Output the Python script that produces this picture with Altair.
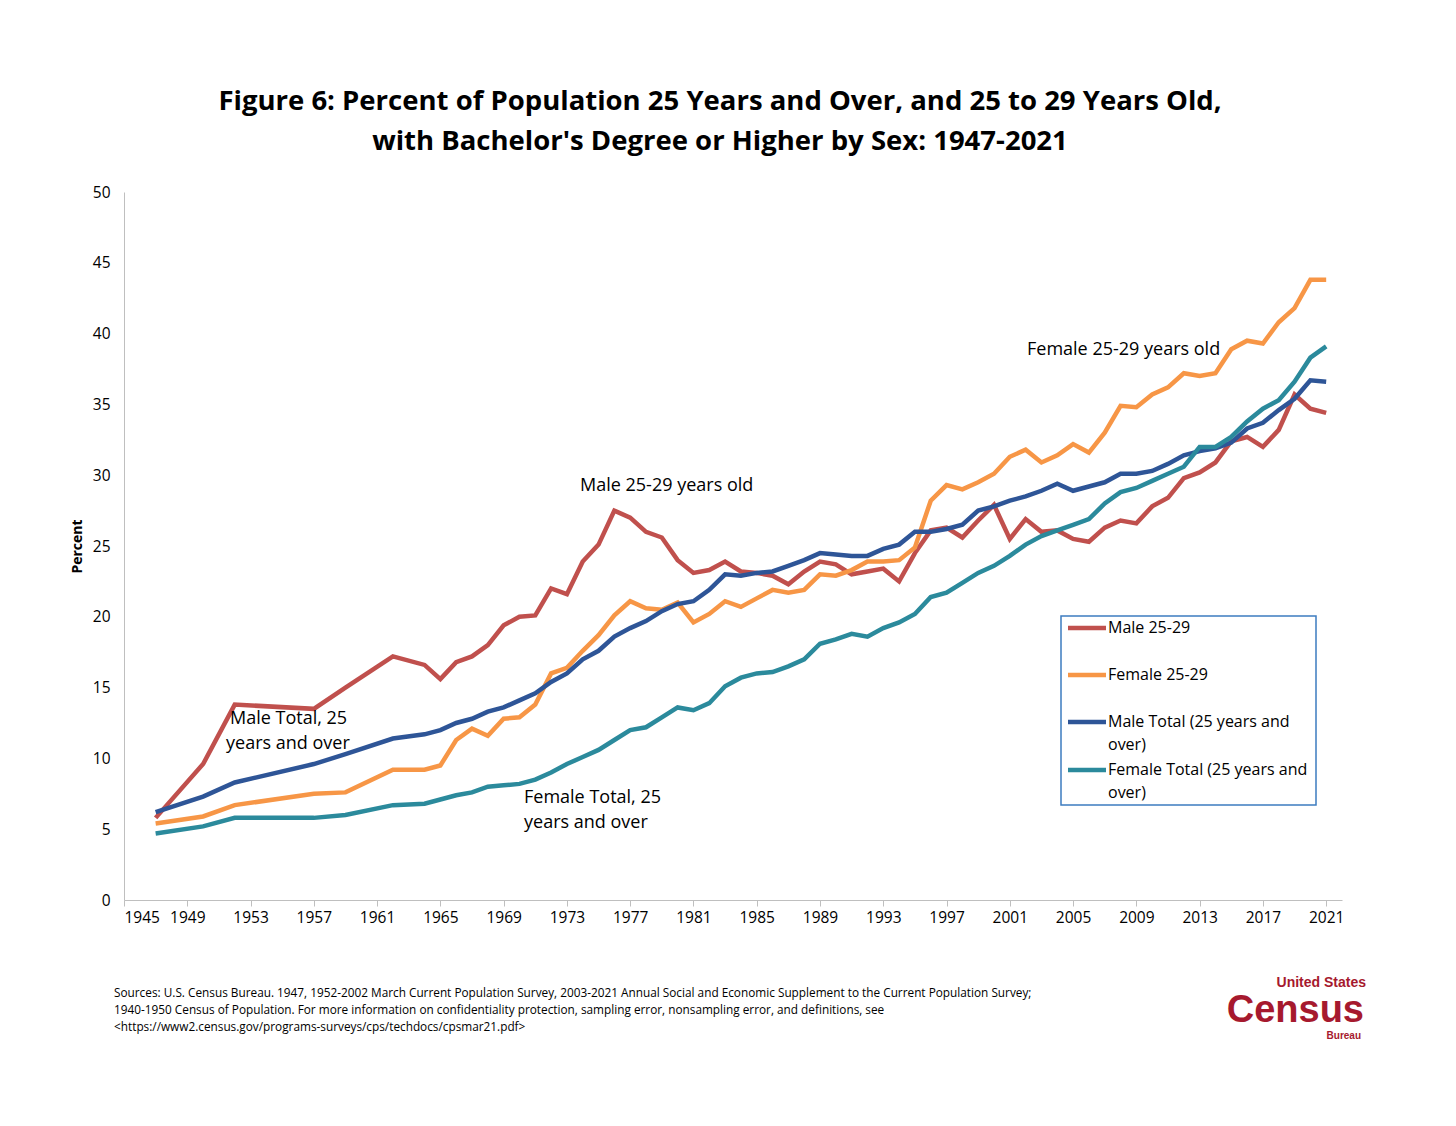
import altair as alt
import pandas as pd

years = [1947, 1950, 1952, 1957, 1959, 1962] + list(range(1964, 2022))

male_2529 = [5.8, 9.6, 13.8, 13.5, 15.0, 17.2, 16.6, 15.6, 16.8, 17.2, 18.0, 19.4, 20.0, 20.1, 22.0, 21.6,
             23.9, 25.1, 27.5, 27.0, 26.0, 25.6, 24.0, 23.1, 23.3, 23.9, 23.2, 23.1, 22.9, 22.3, 23.2, 23.9,
             23.7, 23.0, 23.2, 23.4, 22.5, 24.5, 26.1, 26.3, 25.6, 26.8, 27.9, 25.5, 26.9, 26.0, 26.1, 25.5,
             25.3, 26.3, 26.8, 26.6, 27.8, 28.4, 29.8, 30.2, 30.9, 32.4, 32.7, 32.0, 33.2, 35.7, 34.7, 34.4]
female_2529 = [5.4, 5.9, 6.7, 7.5, 7.6, 9.2, 9.2, 9.5, 11.3, 12.1, 11.6, 12.8, 12.9, 13.8, 16.0, 16.4,
               17.6, 18.7, 20.1, 21.1, 20.6, 20.5, 21.0, 19.6, 20.2, 21.1, 20.7, 21.3, 21.9, 21.7, 21.9, 23.0,
               22.9, 23.3, 23.9, 23.9, 24.0, 24.9, 28.2, 29.3, 29.0, 29.5, 30.1, 31.3, 31.8, 30.9, 31.4, 32.2,
               31.6, 33.0, 34.9, 34.8, 35.7, 36.2, 37.2, 37.0, 37.2, 38.9, 39.5, 39.3, 40.8, 41.8, 43.8, 43.8]
male_total = [6.2, 7.3, 8.3, 9.6, 10.3, 11.4, 11.7, 12.0, 12.5, 12.8, 13.3, 13.6, 14.1, 14.6, 15.4, 16.0,
              17.0, 17.6, 18.6, 19.2, 19.7, 20.4, 20.9, 21.1, 21.9, 23.0, 22.9, 23.1, 23.2, 23.6, 24.0, 24.5,
              24.4, 24.3, 24.3, 24.8, 25.1, 26.0, 26.0, 26.2, 26.5, 27.5, 27.8, 28.2, 28.5, 28.9, 29.4, 28.9,
              29.2, 29.5, 30.1, 30.1, 30.3, 30.8, 31.4, 31.7, 31.9, 32.3, 33.3, 33.7, 34.6, 35.4, 36.7, 36.6]
female_total = [4.7, 5.2, 5.8, 5.8, 6.0, 6.7, 6.8, 7.1, 7.4, 7.6, 8.0, 8.1, 8.2, 8.5, 9.0, 9.6,
                10.1, 10.6, 11.3, 12.0, 12.2, 12.9, 13.6, 13.4, 13.9, 15.1, 15.7, 16.0, 16.1, 16.5, 17.0, 18.1,
                18.4, 18.8, 18.6, 19.2, 19.6, 20.2, 21.4, 21.7, 22.4, 23.1, 23.6, 24.3, 25.1, 25.7, 26.1, 26.5,
                26.9, 28.0, 28.8, 29.1, 29.6, 30.1, 30.6, 32.0, 32.0, 32.7, 33.8, 34.7, 35.3, 36.6, 38.3, 39.1]

series_names = ["Male 25-29", "Female 25-29", "Male Total (25 years and over)", "Female Total (25 years and over)"]
colors = ["#c0504d", "#f79646", "#2e5597", "#2b8a9c"]
x_ticks = list(range(1945, 2022, 4))

rows = []
for name, vals in zip(series_names, [male_2529, female_2529, male_total, female_total]):
    for y, v in zip(years, vals):
        rows.append({"year": y, "value": v, "series": name})
df = pd.DataFrame(rows)

FONT = "Open Sans"
W, H = 1218, 708

lines = alt.Chart(df).mark_line(strokeWidth=4.5).encode(
    x=alt.X("year:Q", scale=alt.Scale(domain=[1945, 2022], nice=False),
            axis=alt.Axis(values=x_ticks, format="d", title=None, grid=False, labelFontSize=15.5,
                          labelFont=FONT, labelColor="black", domainColor="#bfbfbf", tickColor="#bfbfbf",
                          tickSize=6, labelPadding=4)),
    y=alt.Y("value:Q", scale=alt.Scale(domain=[0, 50]),
            axis=alt.Axis(values=list(range(0, 51, 5)), title="Percent", titleFont=FONT, titleFontSize=14,
                          titleFontWeight="bold", titlePadding=8, grid=False, labelFontSize=15.5, labelFont=FONT,
                          labelColor="black", domainColor="#bfbfbf", ticks=False, labelPadding=14)),
    color=alt.Color("series:N", scale=alt.Scale(domain=series_names, range=colors), legend=None),
    detail="series:N",
)

def txt(s, x, y, size=18, weight="normal", align="left", color="black", font=FONT, baseline="middle"):
    return alt.Chart(alt.Data(values=[{}])).mark_text(
        text=s, fontSize=size, fontWeight=weight, align=align, color=color, font=font, baseline=baseline
    ).encode(x=alt.value(x), y=alt.value(y))

ox, oy = 124, 192
layers = [lines]

# Title
layers.append(txt("Figure 6: Percent of Population 25 Years and Over, and 25 to 29 Years Old,", 720 - ox, 102 - oy, 27.5, "bold", "center"))
layers.append(txt("with Bachelor's Degree or Higher by Sex: 1947-2021", 720 - ox, 142 - oy, 27.5, "bold", "center"))

# Annotations
layers.append(txt("Male Total, 25", 230 - ox, 719 - oy))
layers.append(txt("years and over", 226 - ox, 744 - oy))
layers.append(txt("Male 25-29 years old", 580 - ox, 486 - oy))
layers.append(txt("Female Total, 25", 524 - ox, 798 - oy))
layers.append(txt("years and over", 524 - ox, 823 - oy))
layers.append(txt("Female 25-29 years old", 1027 - ox, 350 - oy))

# Legend box
layers.append(alt.Chart(alt.Data(values=[{}])).mark_rect(fill="white", stroke="#3d7cc0", strokeWidth=1.5).encode(
    x=alt.value(1061 - ox), x2=alt.value(1316 - ox), y=alt.value(616 - oy), y2=alt.value(805 - oy)))
leg_y = [628, 675, 722, 770]
leg_lines = [["Male 25-29"], ["Female 25-29"], ["Male Total (25 years and", "over)"], ["Female Total (25 years and", "over)"]]
for c, ly, lt in zip(colors, leg_y, leg_lines):
    layers.append(alt.Chart(alt.Data(values=[{}])).mark_rule(color=c, strokeWidth=4.5).encode(
        x=alt.value(1068 - ox), x2=alt.value(1106 - ox), y=alt.value(ly - oy)))
    for i, t in enumerate(lt):
        layers.append(txt(t, 1108 - ox, ly - oy + i * 23, 16))

# Sources
src = ["Sources:  U.S. Census Bureau. 1947, 1952-2002 March Current Population Survey, 2003-2021 Annual Social and Economic Supplement to the Current Population Survey;",
       "1940-1950 Census of Population. For more information on confidentiality protection, sampling error, nonsampling error, and definitions, see",
       "<https://www2.census.gov/programs-surveys/cps/techdocs/cpsmar21.pdf>"]
for i, s in enumerate(src):
    layers.append(txt(s, 114 - ox, 993 - oy + i * 17, 11.8))

# Logo
logo = "#a6192e"
layers.append(txt("United States", 1366 - ox, 983 - oy, 14, "bold", "right", logo, "Liberation Sans"))
layers.append(txt("Census", 1364 - ox, 1011 - oy, 38, "bold", "right", logo, "Liberation Sans"))
layers.append(txt("Bureau", 1361 - ox, 1036 - oy, 10, "bold", "right", logo, "Liberation Sans"))

chart = alt.layer(*layers).properties(
    width=W, height=H,
    padding={"left": ox - 8, "top": oy - 8, "right": 1456 - 16 - (ox - 8) - W, "bottom": 1110 - oy - H},
    autosize=alt.AutoSizeParams(type="none"),
    background="white",
).configure_view(stroke=None)

chart.save("out.html", embed_options={"renderer": "svg", "actions": False})
